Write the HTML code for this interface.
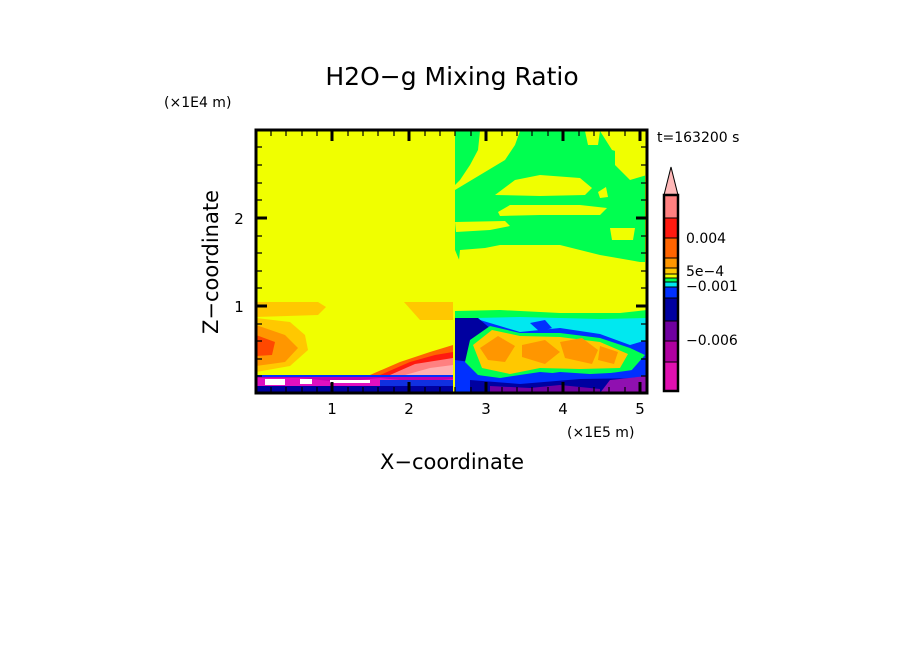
<!DOCTYPE html>
<html><head><meta charset="utf-8"><style>
html,body{margin:0;padding:0;background:#fff}
svg{display:block}
text{font-family:"DejaVu Sans","Liberation Sans",sans-serif;fill:#000}
</style></head><body>
<svg width="904" height="654" viewBox="0 0 904 654" xmlns="http://www.w3.org/2000/svg">
<rect width="904" height="654" fill="#fff"/>
<text x="452" y="85" font-size="25" text-anchor="middle">H2O−g Mixing Ratio</text>
<text x="164" y="107" font-size="14">(×1E4 m)</text>
<text x="657" y="142" font-size="14">t=163200 s</text>
<text x="567" y="437" font-size="14">(×1E5 m)</text>
<text x="452" y="469" font-size="21" text-anchor="middle">X−coordinate</text>
<text transform="translate(218,262) rotate(-90)" font-size="21" text-anchor="middle">Z−coordinate</text>
<g font-size="15" text-anchor="middle">
<text x="332" y="414">1</text><text x="409" y="414">2</text><text x="486" y="414">3</text><text x="563" y="414">4</text><text x="640" y="414">5</text>
<text x="239" y="224">2</text><text x="239" y="312">1</text>
</g>
<defs><clipPath id="c"><rect x="256" y="130" width="391" height="263"/></clipPath></defs>
<g clip-path="url(#c)">
<rect x="256" y="130" width="391" height="263" fill="#f0ff00"/>
<!-- left -->
<path d="M256,302 L318,302 L326,307 L318,315 L256,317Z" fill="#ffc800"/>
<path d="M404,302 L453,302 L453,320 L420,320Z" fill="#ffc800"/>
<path d="M256,318 L290,322 L305,335 L308,350 L290,366 L256,372Z" fill="#ffc800"/>
<path d="M256,325 L285,335 L298,348 L285,362 L256,366Z" fill="#ff9600"/>
<path d="M256,335 L275,342 L272,355 L256,356Z" fill="#ff4800"/>
<path d="M370,375 L400,362 L430,352 L453,345 L453,376Z" fill="#ff6400"/>
<path d="M380,375 L410,362 L435,355 L453,352 L453,376Z" fill="#ff1a10"/>
<path d="M390,375 L415,364 L453,358 L453,376Z" fill="#ff8080"/>
<path d="M405,375 L430,368 L453,365 L453,376Z" fill="#ffb0b0"/>
<rect x="256" y="375" width="197" height="18" fill="#c000b0"/>
<rect x="256" y="375" width="197" height="2" fill="#0030ff"/>
<rect x="256" y="386" width="197" height="7" fill="#0000a0"/>
<path d="M256,378 L300,378 L340,382 L380,378 L420,382 L453,379 L453,386 L256,386Z" fill="#e010c0"/>
<path d="M265,379h20v6h-20Z M300,379h12v5h-12Z M330,380h40v3h-40Z" fill="#fff"/>
<rect x="380" y="380" width="73" height="6" fill="#1030e0"/>
<!-- right upper -->
<path d="M455,131 L480,131 L478,150 L470,165 L460,180 L455,185Z" fill="#00ff50"/>
<path d="M520,131 L600,131 L612,150 L645,160 L645,268 L600,264 L560,268 L520,260 L490,266 L460,262 L455,250 L455,190 L480,175 L505,160 L515,145Z" fill="#00ff50"/>
<path d="M585,131 L600,131 L598,145 L588,145Z" fill="#f0ff00"/>
<path d="M495,195 L515,180 L540,175 L580,178 L592,188 L585,195 L540,196Z" fill="#f0ff00"/>
<path d="M598,192 L606,187 L608,197 L600,198Z" fill="#f0ff00"/>
<path d="M498,212 L510,205 L580,205 L607,208 L600,215 L540,215 L500,216Z" fill="#f0ff00"/>
<path d="M455,222 L505,221 L510,226 L490,230 L456,232Z" fill="#f0ff00"/>
<path d="M610,228 L635,228 L633,240 L612,240Z" fill="#f0ff00"/>
<path d="M460,250 L485,248 L500,245 L560,245 L600,255 L640,262 L647,262 L647,300 L455,300Z" fill="#f0ff00"/>
<path d="M615,131 L647,131 L647,175 L630,180 L615,165Z" fill="#f0ff00"/>
<!-- right lower -->
<path d="M455,311 L500,310 L560,313 L620,313 L647,310 L647,393 L455,393Z" fill="#00ff50"/>
<path d="M475,318 L520,317 L600,319 L647,318 L647,393 L475,393Z" fill="#00e8f0"/>
<path d="M455,318 L480,320 L500,326 L520,332 L560,328 L600,334 L630,345 L647,340 L647,393 L455,393Z" fill="#0030ff"/>
<path d="M455,318 L478,318 L492,330 L480,350 L470,362 L455,360Z" fill="#0000a0"/>
<path d="M470,340 L490,326 L520,333 L560,333 L600,338 L630,348 L645,355 L630,372 L590,374 L560,372 L530,376 L500,380 L478,375 L465,362Z" fill="#00ff50"/>
<path d="M473,345 L492,330 L520,336 L560,337 L600,342 L628,354 L620,368 L580,369 L540,368 L510,374 L482,368Z" fill="#ffc800"/>
<path d="M480,348 L498,336 L515,346 L505,362 L488,360Z M522,345 L545,340 L560,352 L545,364 L522,357Z M560,342 L582,338 L598,350 L592,364 L565,358Z M600,346 L618,352 L614,364 L598,360Z" fill="#ff9600"/>
<path d="M530,323 L545,320 L552,328 L540,332Z" fill="#0030ff"/>
<path d="M455,372 L500,378 L540,372 L590,376 L647,368 L647,393 L455,393Z" fill="#0030ff"/>
<path d="M470,380 L520,384 L580,379 L647,378 L647,393 L470,393Z" fill="#0000a0"/>
<path d="M610,380 L647,376 L647,393 L600,393Z" fill="#9010b0"/>
<path d="M490,386 L530,388 L560,385 L600,389 L600,393 L490,393Z" fill="#7000a0"/>
</g>
<!-- axes frame + ticks -->
<rect x="256" y="130" width="391" height="263" fill="none" stroke="#000" stroke-width="3"/>
<g stroke="#000" stroke-width="1.2">
<path d="M271,131v5M286,131v5M302,131v5M317,131v5M348,131v5M363,131v5M378,131v5M394,131v5M425,131v5M440,131v5M455,131v5M471,131v5M502,131v5M517,131v5M532,131v5M548,131v5M579,131v5M594,131v5M609,131v5M625,131v5"/>
<path d="M271,392v-5M286,392v-5M302,392v-5M317,392v-5M348,392v-5M363,392v-5M378,392v-5M394,392v-5M425,392v-5M440,392v-5M455,392v-5M471,392v-5M502,392v-5M517,392v-5M532,392v-5M548,392v-5M579,392v-5M594,392v-5M609,392v-5M625,392v-5"/>
<path d="M257,147h5M257,165h5M257,183h5M257,200h5M257,236h5M257,253h5M257,271h5M257,288h5M257,324h5M257,341h5M257,359h5M257,376h5"/>
<path d="M646,147h-5M646,165h-5M646,183h-5M646,200h-5M646,236h-5M646,253h-5M646,271h-5M646,288h-5M646,324h-5M646,341h-5M646,359h-5M646,376h-5"/>
</g>
<g stroke="#000" stroke-width="3">
<path d="M332,131v10M409,131v10M486,131v10M563,131v10M640,131v10"/>
<path d="M332,392v-10M409,392v-10M486,392v-10M563,392v-10M640,392v-10"/>
<path d="M257,218h10M257,306h10M646,218h-10M646,306h-10"/>
</g>
<!-- colorbar -->
<g stroke="#000" stroke-width="1">
<path d="M664,195 L671,167 L678,195Z" fill="#ffb8b8"/>
<rect x="664" y="195" width="14" height="23" fill="#ff8080"/>
<rect x="664" y="218" width="14" height="20" fill="#ff1a10"/>
<rect x="664" y="238" width="14" height="20" fill="#ff6400"/>
<rect x="664" y="258" width="14" height="10" fill="#ff9600"/>
<rect x="664" y="268" width="14" height="6" fill="#ffc800"/>
<rect x="664" y="274" width="14" height="4" fill="#f0ff00"/>
<rect x="664" y="278" width="14" height="4" fill="#00ff50"/>
<rect x="664" y="282" width="14" height="5" fill="#00e8f0"/>
<rect x="664" y="287" width="14" height="11" fill="#0030ff"/>
<rect x="664" y="298" width="14" height="23" fill="#0000a0"/>
<rect x="664" y="321" width="14" height="20" fill="#7000a0"/>
<rect x="664" y="341" width="14" height="21" fill="#b000a0"/>
<rect x="664" y="362" width="14" height="29" fill="#e010b0"/>
</g>
<rect x="664" y="195" width="14" height="196" fill="none" stroke="#000" stroke-width="2.5"/>
<g font-size="14">
<text x="686" y="243">0.004</text>
<text x="686" y="276">5e−4</text>
<text x="686" y="291">−0.001</text>
<text x="686" y="345">−0.006</text>
</g>
</svg>
</body></html>
